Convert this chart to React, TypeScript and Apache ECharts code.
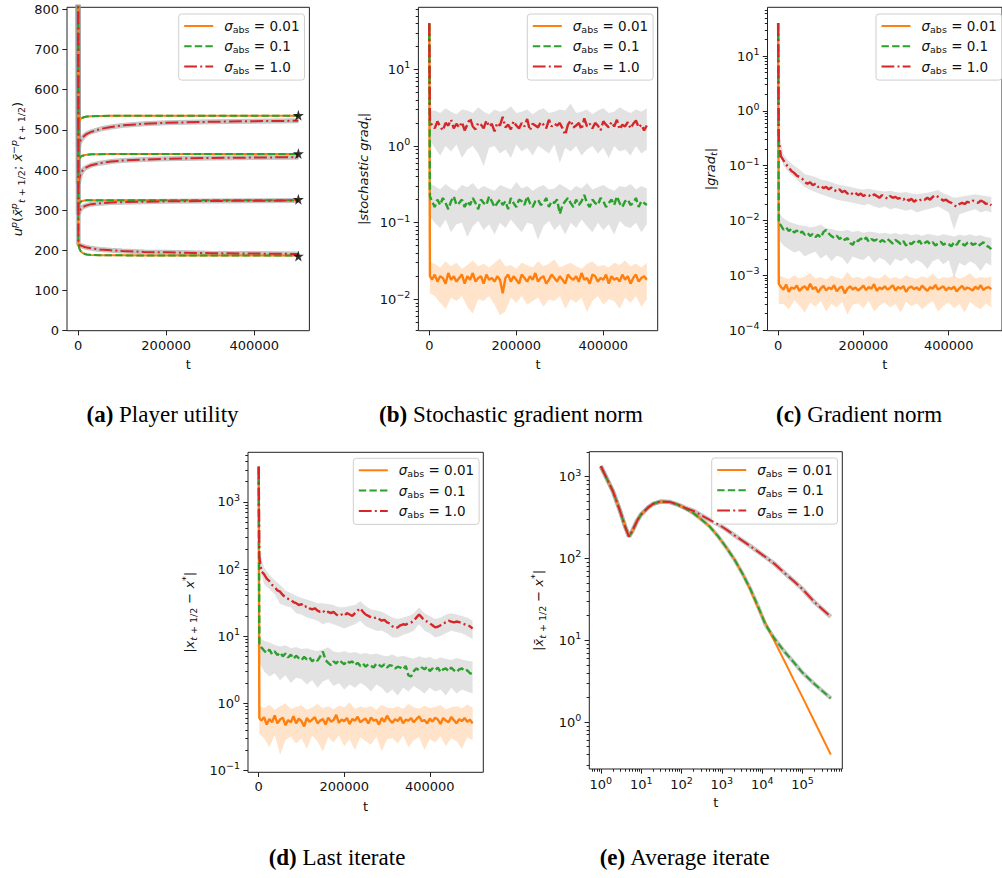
import React, { useEffect, useRef } from 'react';
import * as echarts from 'echarts';

const FONT = "'DejaVu Sans', 'Noto Sans', sans-serif";
const SERIF = "'Liberation Serif', 'DejaVu Serif', serif";
const TXT = '#111';
const AXIS = '#222';

const SIGMAS = ['0.01', '0.1', '1.0'];
const NAMES = SIGMAS.map((s) => `σabs = ${s}`);
const COLORS = ['#ff7f0e', '#2ca02c', '#d62728'];
const DASHES: any[] = ['solid', [7.4, 3.2], [12.8, 3.2, 2, 3.2]];
const GREY_FILL = 'rgba(150,150,150,0.28)';
const ORANGE_FILL = 'rgba(255,127,14,0.22)';

// ---------- (a) Player utility ----------
const T_A = [0, 800, 3000, 6000, 10000, 15000, 20000, 30000, 50000, 75000, 100000, 150000, 200000, 300000, 400000, 500000];
const UA1_001 = [900, 516, 521, 527, 530, 532, 533, 534, 534.5, 535, 535, 535, 535, 535, 535, 535];
const UA1_01 = [900, 518, 522, 527, 530, 532, 533, 534, 534.5, 535, 535, 535, 535, 535, 535, 535];
const UA1_10 = [900, 455, 466, 474, 480, 486, 490, 495, 502, 507, 511, 515, 517.5, 520, 521.5, 522.5];
const UA2_001 = [900, 428, 430, 433, 435.5, 437, 438, 439, 439.5, 440, 440, 440, 440, 440, 440, 440];
const UA2_01 = [900, 426, 429, 433, 435.5, 437, 438, 439, 439.5, 440, 440, 440, 440, 440, 440, 440];
const UA2_10 = [900, 365, 380, 390, 398, 404, 407, 412, 417, 421, 423.5, 426, 428, 430, 431, 432];
const UA3_001 = [900, 315, 318, 321, 323, 324, 324.5, 325, 325, 325, 325, 325, 325, 325, 325, 325];
const UA3_01 = [900, 314, 318, 321, 323, 324, 324.5, 325, 325, 325, 325, 325, 325, 325, 325, 325];
const UA3_10 = [900, 290, 298, 303, 307, 310, 312, 315, 317, 319, 320, 321, 322, 323, 323.5, 324];
const UA4_001 = [900, 214, 205, 198, 194, 191, 189.5, 188.5, 188, 187.5, 187.5, 187, 187, 187, 187, 187];
const UA4_01 = [900, 215, 205, 198, 194, 191, 189.5, 188.5, 188, 187.5, 187.5, 187, 187, 187, 187, 187];
const UA4_10 = [900, 216, 214, 212, 210.5, 208.5, 207, 205, 202, 200, 198.5, 196, 195, 193, 192, 191];
const STAR_T = 500000;
const STAR_U = [536, 441, 327, 186];

// ---------- shared time grids for (b), (c), (d) ----------
const T_START = [0, 1500];
const MEAN_STEP = 6250;
const BAND_STEP = 12500;
const T_MEAN = [...T_START, ...Array.from({ length: 80 }, (_, i) => (i + 1) * MEAN_STEP)];
const T_BAND = [...T_START, ...Array.from({ length: 40 }, (_, i) => (i + 1) * BAND_STEP)];

// ---------- (b) Stochastic gradient norm ----------
const B_MEAN_001 = [40, 0.02,
  0.018, 0.021, 0.017, 0.02, 0.019, 0.016, 0.022, 0.018, 0.02, 0.017,
  0.019, 0.021, 0.016, 0.02, 0.018, 0.022, 0.017, 0.019, 0.02, 0.016,
  0.021, 0.018, 0.019, 0.017, 0.02, 0.018, 0.012, 0.019, 0.021, 0.017,
  0.02, 0.018, 0.016, 0.021, 0.019, 0.017, 0.02, 0.018, 0.022, 0.017,
  0.019, 0.02, 0.016, 0.018, 0.021, 0.019, 0.017, 0.02, 0.018, 0.016,
  0.021, 0.019, 0.018, 0.02, 0.017, 0.022, 0.018, 0.019, 0.016, 0.021,
  0.02, 0.017, 0.019, 0.018, 0.021, 0.016, 0.02, 0.018, 0.019, 0.017,
  0.021, 0.018, 0.02, 0.016, 0.019, 0.021, 0.017, 0.019, 0.02, 0.018];
const B_MEAN_01 = [40, 0.22,
  0.19, 0.16, 0.2, 0.17, 0.21, 0.18, 0.15, 0.19, 0.22, 0.17,
  0.18, 0.2, 0.16, 0.19, 0.17, 0.21, 0.18, 0.15, 0.2, 0.18,
  0.17, 0.22, 0.19, 0.16, 0.18, 0.2, 0.17, 0.19, 0.15, 0.21,
  0.18, 0.16, 0.2, 0.19, 0.17, 0.22, 0.18, 0.16, 0.19, 0.2,
  0.17, 0.18, 0.21, 0.16, 0.19, 0.18, 0.2, 0.13, 0.17, 0.19,
  0.21, 0.18, 0.16, 0.2, 0.17, 0.19, 0.23, 0.18, 0.16, 0.2,
  0.18, 0.17, 0.21, 0.19, 0.16, 0.18, 0.2, 0.17, 0.22, 0.18,
  0.16, 0.19, 0.2, 0.17, 0.18, 0.21, 0.16, 0.19, 0.18, 0.17];
const B_MEAN_10 = [40, 2.0,
  1.9, 1.7, 2.1, 1.8, 1.6, 2.0, 1.85, 2.2, 1.7, 1.95,
  1.75, 2.05, 1.6, 1.9, 2.3, 1.8, 1.65, 2.0, 1.9, 1.7,
  2.15, 1.8, 1.95, 1.55, 2.0, 1.85, 2.4, 1.75, 1.9, 1.65,
  2.1, 1.85, 1.7, 2.0, 1.8, 2.25, 1.6, 1.95, 1.85, 1.75,
  2.05, 1.9, 1.7, 2.2, 1.8, 1.95, 1.85, 2.0, 1.7, 1.4,
  1.9, 2.15, 1.75, 1.85, 2.0, 1.65, 2.3, 1.8, 1.95, 1.7,
  2.0, 1.85, 1.6, 2.1, 1.9, 1.75, 2.05, 1.8, 2.2, 1.65,
  1.9, 1.8, 2.05, 1.7, 1.95, 2.15, 1.75, 1.9, 1.6, 1.85];
const B_HI_001 = [41, 0.03,
  0.029, 0.026, 0.031, 0.027, 0.03, 0.025, 0.028, 0.032, 0.027, 0.029,
  0.026, 0.03, 0.034, 0.027, 0.028, 0.025, 0.03, 0.028, 0.026, 0.031,
  0.027, 0.029, 0.033, 0.026, 0.028, 0.03, 0.027, 0.025, 0.029, 0.031,
  0.027, 0.028, 0.026, 0.03, 0.028, 0.032, 0.027, 0.029, 0.026, 0.03];
const B_LO_001 = [39, 0.012,
  0.011, 0.009, 0.0075, 0.0105, 0.0095, 0.011, 0.008, 0.0065, 0.01, 0.0095,
  0.011, 0.0085, 0.0062, 0.007, 0.0105, 0.009, 0.011, 0.0085, 0.0095, 0.0105,
  0.008, 0.01, 0.0095, 0.011, 0.0075, 0.01, 0.009, 0.0105, 0.0068, 0.0095,
  0.011, 0.0085, 0.01, 0.0095, 0.0075, 0.0105, 0.009, 0.011, 0.008, 0.01];
const B_HI_01 = [41, 0.32,
  0.3, 0.27, 0.32, 0.28, 0.26, 0.31, 0.29, 0.33, 0.27, 0.3,
  0.28, 0.26, 0.31, 0.29, 0.27, 0.34, 0.28, 0.3, 0.26, 0.29,
  0.31, 0.27, 0.28, 0.32, 0.29, 0.26, 0.3, 0.28, 0.33, 0.27,
  0.29, 0.31, 0.28, 0.26, 0.3, 0.29, 0.32, 0.27, 0.3, 0.28];
const B_LO_01 = [39, 0.12,
  0.1, 0.085, 0.11, 0.075, 0.095, 0.1, 0.065, 0.09, 0.105, 0.08,
  0.095, 0.07, 0.1, 0.085, 0.11, 0.09, 0.075, 0.1, 0.095, 0.06,
  0.09, 0.105, 0.08, 0.095, 0.07, 0.1, 0.085, 0.11, 0.09, 0.075,
  0.1, 0.08, 0.095, 0.07, 0.105, 0.09, 0.085, 0.1, 0.075, 0.095];
const B_HI_10 = [41, 2.9,
  2.9, 2.7, 3.1, 2.8, 2.6, 3.0, 2.9, 2.7, 3.2, 2.8,
  2.6, 3.0, 2.8, 2.9, 3.3, 2.7, 2.8, 3.0, 2.6, 2.9,
  3.1, 2.7, 2.8, 3.0, 2.9, 3.6, 2.7, 2.8, 3.0, 2.6,
  2.9, 3.1, 2.7, 2.8, 3.2, 2.9, 2.7, 3.0, 2.8, 3.1];
const B_LO_10 = [39, 1.2,
  0.95, 0.75, 1.0, 0.85, 1.05, 0.7, 0.9, 1.0, 0.8, 0.55,
  0.95, 1.0, 0.8, 0.9, 0.7, 1.05, 0.85, 0.95, 0.75, 1.0,
  0.9, 0.8, 1.05, 0.6, 0.95, 0.85, 1.0, 0.75, 0.9, 1.0,
  0.8, 0.95, 0.7, 1.0, 0.85, 0.9, 0.75, 1.0, 0.8, 0.9];

// ---------- (c) Gradient norm ----------
const C_MEAN_001 = [40, 0.0007,
  0.00062, 0.00055, 0.00068, 0.0005, 0.0006, 0.00057, 0.00065, 0.00052, 0.00059, 0.00063,
  0.00054, 0.0007, 0.00056, 0.00061, 0.00049, 0.00058, 0.00064, 0.00053, 0.0006, 0.00056,
  0.00066, 0.00051, 0.00059, 0.00062, 0.00047, 0.00057, 0.00063, 0.00055, 0.0006, 0.00053,
  0.00058, 0.00065, 0.00054, 0.00061, 0.00057, 0.00069, 0.00052, 0.0006, 0.00056, 0.00063,
  0.00055, 0.00059, 0.00066, 0.00053, 0.00061, 0.00057, 0.00064, 0.0005, 0.00059, 0.00062,
  0.00056, 0.0006, 0.00054, 0.00065, 0.00058, 0.00052, 0.00061, 0.00057, 0.00067, 0.00055,
  0.00059, 0.00063, 0.00053, 0.0006, 0.00056, 0.00062, 0.00051, 0.00058, 0.00064, 0.00055,
  0.0006, 0.00057, 0.00053, 0.00062, 0.00056, 0.00066, 0.00054, 0.00059, 0.00061, 0.00056];
const C_MEAN_01 = [40, 0.009,
  0.0082, 0.0068, 0.0075, 0.0064, 0.0071, 0.006, 0.0066, 0.0058, 0.0063, 0.0055,
  0.006, 0.0052, 0.0057, 0.005, 0.0055, 0.0049, 0.0062, 0.0067, 0.0058, 0.0052,
  0.0048, 0.0053, 0.0046, 0.005, 0.0044, 0.0048, 0.0039, 0.0036, 0.0045, 0.0042,
  0.0047, 0.0043, 0.0049, 0.0041, 0.0046, 0.0043, 0.0045, 0.004, 0.0044, 0.0041,
  0.0046, 0.0042, 0.0038, 0.0044, 0.0041, 0.0037, 0.0042, 0.0035, 0.004, 0.0037,
  0.0041, 0.0038, 0.0043, 0.0036, 0.0039, 0.0042, 0.0037, 0.004, 0.0035, 0.0038,
  0.0041, 0.0036, 0.0039, 0.0037, 0.0034, 0.004, 0.0036, 0.0043, 0.0038, 0.0035,
  0.0039, 0.0041, 0.0036, 0.0038, 0.0034, 0.0037, 0.004, 0.0035, 0.0033, 0.003];
const C_MEAN_10 = [40, 0.3,
  0.15, 0.125, 0.105, 0.092, 0.08, 0.074, 0.066, 0.062, 0.058, 0.05,
  0.047, 0.05, 0.044, 0.047, 0.041, 0.043, 0.039, 0.041, 0.037, 0.04,
  0.036, 0.034, 0.037, 0.033, 0.035, 0.031, 0.033, 0.03, 0.032, 0.029,
  0.031, 0.028, 0.03, 0.029, 0.027, 0.03, 0.028, 0.026, 0.029, 0.027,
  0.025, 0.028, 0.026, 0.027, 0.025, 0.026, 0.024, 0.026, 0.023, 0.025,
  0.022, 0.024, 0.023, 0.025, 0.024, 0.026, 0.024, 0.027, 0.029, 0.027,
  0.025, 0.023, 0.024, 0.022, 0.021, 0.019, 0.018, 0.02, 0.021, 0.02,
  0.022, 0.021, 0.023, 0.022, 0.021, 0.023, 0.022, 0.02, 0.021, 0.019];
const C_HI_001 = [41, 0.001,
  0.00092, 0.00085, 0.001, 0.00088, 0.00095, 0.0011, 0.00087, 0.00093, 0.00084, 0.001,
  0.0009, 0.00086, 0.00115, 0.00089, 0.00094, 0.00085, 0.00098, 0.0009, 0.00087, 0.00105,
  0.00088, 0.00093, 0.00085, 0.001, 0.0009, 0.00087, 0.00096, 0.00089, 0.00108, 0.00086,
  0.00092, 0.0009, 0.00098, 0.00087, 0.00094, 0.0011, 0.00088, 0.00093, 0.00089, 0.00095];
const C_LO_001 = [39, 0.0003,
  0.0003, 0.00024, 0.00035, 0.00028, 0.00021, 0.00032, 0.00027, 0.00034, 0.00022, 0.0003,
  0.00026, 0.00033, 0.00019, 0.00029, 0.00031, 0.00025, 0.00034, 0.00022, 0.00028, 0.00032,
  0.00026, 0.0003, 0.00021, 0.00033, 0.00027, 0.00031, 0.00024, 0.00029, 0.00034, 0.00022,
  0.00028, 0.00032, 0.00025, 0.0003, 0.00021, 0.00033, 0.00027, 0.00024, 0.00031, 0.00026];
const C_HI_01 = [41, 0.014,
  0.011, 0.0095, 0.0088, 0.0082, 0.008, 0.0075, 0.0078, 0.0085, 0.0072, 0.007,
  0.0066, 0.0064, 0.0068, 0.0062, 0.0065, 0.006, 0.0063, 0.0061, 0.0058, 0.006,
  0.0057, 0.0059, 0.0055, 0.0058, 0.0054, 0.0056, 0.0053, 0.0057, 0.0055, 0.0052,
  0.0056, 0.0054, 0.0051, 0.0055, 0.0053, 0.0056, 0.0052, 0.0054, 0.005, 0.0048];
const C_LO_01 = [39, 0.0045,
  0.0035, 0.003, 0.0026, 0.0028, 0.0022, 0.0025, 0.0027, 0.002, 0.0024, 0.0018,
  0.0023, 0.0021, 0.0016, 0.0022, 0.002, 0.0019, 0.0023, 0.0017, 0.0021, 0.0019,
  0.0015, 0.002, 0.0018, 0.0021, 0.0016, 0.0019, 0.0017, 0.0013, 0.0018, 0.002,
  0.0016, 0.0019, 0.0009, 0.0017, 0.0015, 0.0018, 0.0016, 0.0012, 0.0017, 0.0015];
const C_HI_10 = [41, 0.4,
  0.16, 0.12, 0.1, 0.085, 0.07, 0.066, 0.062, 0.056, 0.054, 0.05,
  0.046, 0.044, 0.042, 0.04, 0.038, 0.037, 0.038, 0.036, 0.035, 0.034,
  0.035, 0.033, 0.032, 0.033, 0.031, 0.03, 0.031, 0.032, 0.034, 0.036,
  0.031, 0.029, 0.026, 0.027, 0.028, 0.029, 0.03, 0.029, 0.028, 0.027];
const C_LO_10 = [39, 0.2,
  0.1, 0.075, 0.062, 0.05, 0.041, 0.036, 0.033, 0.03, 0.028, 0.026,
  0.024, 0.023, 0.022, 0.021, 0.02, 0.019, 0.02, 0.018, 0.017, 0.018,
  0.016, 0.017, 0.016, 0.015, 0.016, 0.014, 0.015, 0.016, 0.017, 0.018,
  0.016, 0.014, 0.0068, 0.013, 0.014, 0.015, 0.016, 0.014, 0.015, 0.014];

// ---------- (d) Last iterate ----------
const D_MEAN_001 = [3300, 0.6,
  0.55, 0.62, 0.48, 0.58, 0.52, 0.66, 0.5, 0.57, 0.61, 0.47,
  0.56, 0.52, 0.64, 0.5, 0.59, 0.54, 0.45, 0.6, 0.53, 0.57,
  0.62, 0.5, 0.55, 0.58, 0.48, 0.61, 0.53, 0.56, 0.67, 0.51,
  0.57, 0.54, 0.6, 0.49, 0.58, 0.55, 0.63, 0.52, 0.56, 0.59,
  0.5, 0.61, 0.55, 0.57, 0.48, 0.6, 0.53, 0.65, 0.56, 0.51,
  0.58, 0.54, 0.62, 0.5, 0.57, 0.55, 0.6, 0.52, 0.58, 0.64,
  0.54, 0.56, 0.5, 0.59, 0.53, 0.61, 0.57, 0.49, 0.6, 0.55,
  0.52, 0.62, 0.56, 0.5, 0.58, 0.54, 0.6, 0.53, 0.57, 0.5];
const D_MEAN_01 = [3300, 7.5,
  6.8, 6.1, 5.6, 6.3, 5.4, 5.9, 5.2, 5.7, 5.0, 5.5,
  4.8, 5.3, 4.6, 5.1, 4.7, 4.4, 4.9, 4.5, 4.8, 4.2,
  4.6, 4.3, 5.0, 5.9, 4.4, 4.0, 3.7, 4.2, 3.9, 4.4,
  4.1, 3.8, 4.3, 4.0, 4.2, 3.7, 4.0, 3.6, 3.9, 3.5,
  3.8, 3.6, 3.4, 3.9, 3.7, 3.5, 3.8, 3.4, 3.7, 3.6,
  3.3, 3.5, 3.4, 3.2, 3.6, 2.6, 2.5, 3.0, 3.3, 3.1,
  3.4, 3.2, 3.5, 3.0, 3.3, 3.1, 3.4, 2.9, 3.2, 3.3,
  3.0, 3.4, 3.1, 2.9, 3.2, 3.3, 3.0, 3.1, 2.8, 2.7];
const D_MEAN_10 = [3400, 150,
  92, 84, 72, 66, 58, 54, 48, 46, 41, 38,
  36, 35, 32, 31, 29, 30, 27, 28, 26, 25,
  26, 24, 23, 24, 22, 23, 22, 23, 21, 20,
  21, 20, 22, 21, 20, 22, 24, 26, 23, 21,
  20, 19, 18.5, 19, 18, 17, 17.5, 16, 15.5, 14,
  13.2, 13.5, 14.5, 15, 14.8, 15.5, 16, 17, 19, 21,
  19, 17, 16.5, 15.5, 14.5, 13.5, 13.8, 14.5, 15.5, 16,
  17, 16.5, 16, 16.5, 16.2, 15.5, 15, 14.5, 14, 13];
const D_HI_001 = [3350, 0.9,
  0.85, 0.95, 0.8, 0.9, 1.0, 0.82, 0.88, 0.93, 0.8, 0.86,
  0.97, 0.84, 0.9, 0.81, 0.92, 0.87, 1.02, 0.83, 0.89, 0.85,
  0.91, 0.8, 0.95, 0.86, 0.84, 0.9, 0.82, 0.98, 0.87, 0.83,
  0.92, 0.85, 0.88, 0.94, 0.81, 0.87, 0.9, 0.84, 0.96, 0.86];
const D_LO_001 = [3250, 0.35,
  0.3, 0.22, 0.34, 0.17, 0.28, 0.32, 0.25, 0.3, 0.21, 0.33,
  0.27, 0.19, 0.31, 0.26, 0.33, 0.23, 0.29, 0.2, 0.31, 0.27,
  0.24, 0.32, 0.19, 0.29, 0.3, 0.25, 0.33, 0.22, 0.28, 0.31,
  0.2, 0.29, 0.26, 0.32, 0.23, 0.3, 0.27, 0.21, 0.31, 0.28];
const D_HI_01 = [3350, 9.5,
  8.5, 8.0, 7.4, 7.0, 7.3, 6.6, 6.9, 6.4, 6.6, 6.2,
  6.0, 6.3, 6.8, 5.9, 5.7, 6.0, 5.6, 5.8, 5.4, 5.6,
  5.3, 5.5, 5.2, 5.0, 5.3, 4.9, 5.1, 4.8, 4.6, 5.0,
  4.7, 4.9, 4.5, 4.8, 4.6, 4.4, 4.7, 4.5, 4.3, 4.2];
const D_LO_01 = [3250, 4.0,
  3.0, 2.5, 2.8, 2.2, 2.6, 2.0, 2.4, 2.3, 1.9, 2.2,
  1.7, 2.1, 2.3, 1.8, 2.0, 1.6, 1.9, 1.7, 2.0, 1.8,
  1.5, 1.9, 1.7, 1.4, 1.6, 1.3, 1.7, 1.5, 1.8, 1.6,
  1.4, 1.7, 1.5, 1.6, 1.3, 1.7, 1.4, 1.6, 1.5, 1.4];
const D_HI_10 = [3450, 190,
  105, 82, 68, 58, 48, 44, 40, 37, 35, 33,
  31, 31, 30, 29, 27, 27, 28, 29, 33, 28,
  25, 24, 23, 21, 19, 18, 19, 20, 22, 27,
  22, 20, 18, 19, 21, 22, 21, 20, 19, 17];
const D_LO_10 = [3350, 110,
  60, 50, 42, 30, 28, 27, 22, 21, 19, 18,
  17, 15, 16, 15, 14, 13, 14, 15, 17, 14,
  13, 12, 12, 11, 9.5, 9.5, 10.5, 11, 12, 15,
  12, 11, 9.5, 10, 11, 12, 11.5, 11, 10, 9];

// ---------- (e) Average iterate ----------
const T_E = [1, 2, 3, 4, 5, 6, 8, 10, 15, 20, 30, 50, 80, 120, 200, 316, 500, 800, 1300, 2100, 3200, 5000, 8000, 12000, 20000, 36000, 60000, 100000, 200000, 500000];
const E_001 = [1340, 660, 380, 245, 185, 215, 290, 345, 420, 465, 495, 490, 455, 412, 355, 297, 245, 187, 135, 95, 66, 42, 24.4, 16.2, 9.8, 5.5, 3.3, 2.0, 1.0, 0.4];
const E_01 = [1340, 660, 380, 245, 185, 215, 290, 345, 420, 465, 495, 490, 455, 412, 355, 297, 245, 187, 135, 95, 66, 43, 25.5, 15.5, 10.5, 7.2, 5.4, 4.0, 2.9, 1.95];
const E_10 = [1340, 660, 380, 245, 185, 215, 290, 345, 420, 465, 495, 490, 455, 418, 380, 335, 295, 262, 225, 190, 165, 142, 120, 104, 86, 66, 53, 42, 29, 19.3];

// ---------- captions ----------
const CAP_TAGS = ['(a)', '(b)', '(c)', '(d)', '(e)'];
const CAP_TITLES = ['Player utility', 'Stochastic gradient norm', 'Gradient norm', 'Last iterate', 'Average iterate'];
const CAP_POS = [[162.5, 414], [511, 414], [859, 414], [337, 857], [685, 857]];

const X_TICKS = [0, 200000, 400000];
const Y_TICKS_A = [0, 100, 200, 300, 400, 500, 600, 700, 800];

const GRIDS = [
  { left: 67, top: 7.3, width: 242.4, height: 323.4 },
  { left: 418.4, top: 7.3, width: 239.3, height: 323.4 },
  { left: 767.5, top: 7.3, width: 238.7, height: 323.4 },
  { left: 248, top: 452.3, width: 235.3, height: 320 },
  { left: 589.3, top: 451.7, width: 253, height: 317.3 },
];
const LEGEND_POS = [[178.7, 14], [527.3, 14], [876, 14], [353.3, 458.3], [711.7, 458]];

const NAME_RICH = {
  n: { fontFamily: FONT, fontSize: 13, color: TXT },
  i: { fontFamily: FONT, fontSize: 13, color: TXT, fontStyle: 'italic' },
  sup: { fontFamily: FONT, fontSize: 9.5, color: TXT, fontStyle: 'italic', padding: [0, 0, 9, 0] },
  sub: { fontFamily: FONT, fontSize: 9.5, color: TXT, padding: [7, 0, 0, 0] },
  subi: { fontFamily: FONT, fontSize: 9.5, color: TXT, fontStyle: 'italic', padding: [7, 0, 0, 0] },
};
const Y_NAMES = [
  '{i|u}{sup|p}{n|(}{i|x\u0304}{sup|p}{subi|t}{sub| + 1/2}{n|; }{i|x\u0304}{sup|\u2212p}{subi|t}{sub| + 1/2}{n|)}',
  '{n||}{i|stochastic grad}{subi|t}{n||}',
  '{n||}{i|grad}{subi|t}{n||}',
  '{n||}{i|x}{subi|t}{sub| + 1/2}{n| \u2212 }{i|x}{sup|*}{n||}',
  '{n||}{i|x\u0304}{subi|t}{sub| + 1/2}{n| \u2212 }{i|x}{sup|*}{n||}',
];
const Y_NAME_GAPS = [40, 46, 49, 49, 41];

const LOG_RICH = {
  b: { fontFamily: FONT, fontSize: 13, color: TXT },
  s: { fontFamily: FONT, fontSize: 9.5, color: TXT, padding: [0, 0, 9, 0] },
};
const supText = (k: number) => (k < 0 ? '\u2212' + Math.abs(k) : String(k));
const logFmt = (v: number) => `{b|10}{s|${supText(Math.round(v))}}`;

const tickStyle = { color: AXIS, width: 1 };
const labelBase = { fontFamily: FONT, fontSize: 13, color: TXT };
const nameStyleT = { fontFamily: FONT, fontSize: 13, color: TXT };
const noLine = { show: false, onZero: false };

function linX(gi: number) {
  return {
    type: 'value', gridIndex: gi, position: 'bottom', min: -25000, max: 525000,
    axisLine: noLine, splitLine: { show: false },
    axisTick: { show: true, customValues: X_TICKS, length: 4.7, lineStyle: tickStyle },
    axisLabel: { ...labelBase, customValues: X_TICKS, margin: 8, formatter: (v: number) => String(v) },
    name: 't', nameLocation: 'middle', nameGap: gi === 3 ? 28 : 27, nameTextStyle: nameStyleT,
  };
}

function logSet(gi: number, lo: number, hi: number, dim: 'x' | 'y', nameCfg: any) {
  const majors: number[] = [];
  const minors: number[] = [];
  for (let k = Math.floor(lo); k <= Math.ceil(hi); k++) {
    if (k >= lo && k <= hi) majors.push(k);
    for (let m = 2; m <= 9; m++) {
      const v = k + Math.log10(m);
      if (v >= lo && v <= hi) minors.push(v);
    }
  }
  const position = dim === 'x' ? 'bottom' : 'left';
  return [
    { type: 'log', logBase: 10, gridIndex: gi, position, min: Math.pow(10, lo), max: Math.pow(10, hi), show: false, axisLine: noLine },
    {
      type: 'value', gridIndex: gi, position, min: lo, max: hi,
      axisLine: noLine, splitLine: { show: false },
      axisTick: { show: true, customValues: majors, length: 4.7, lineStyle: tickStyle },
      axisLabel: { customValues: majors, formatter: logFmt, rich: LOG_RICH, margin: dim === 'x' ? 6 : 8 },
      ...nameCfg,
    },
    {
      type: 'value', gridIndex: gi, position, min: lo, max: hi,
      axisLine: noLine, splitLine: { show: false },
      axisTick: { show: true, customValues: minors, length: 2.7, lineStyle: tickStyle },
      axisLabel: { show: false },
    },
  ];
}

const yName = (gi: number) => ({
  name: Y_NAMES[gi], nameLocation: 'middle', nameRotate: 90, nameGap: Y_NAME_GAPS[gi],
  nameTextStyle: { rich: NAME_RICH, fontFamily: FONT, fontSize: 13, color: TXT },
});

function buildOption() {
  const series: any[] = [];
  const pts = (ts: number[], vs: number[]) => vs.map((v, i) => [ts[i], v]);
  const line = (name: string, xi: number, yi: number, ts: number[], vs: number[], k: number, w = 2) => {
    series.push({
      type: 'line', name, xAxisIndex: xi, yAxisIndex: yi, data: pts(ts, vs),
      showSymbol: false, symbol: 'none', silent: true, z: 4,
      lineStyle: { color: COLORS[k], width: w, type: DASHES[k] }, itemStyle: { color: COLORS[k] },
    });
  };
  const halo = (id: string, xi: number, yi: number, ts: number[], vs: number[], w: number) => {
    series.push({
      type: 'line', name: id, xAxisIndex: xi, yAxisIndex: yi, data: pts(ts, vs),
      showSymbol: false, symbol: 'none', silent: true, z: 2,
      lineStyle: { color: 'rgba(150,150,150,0.55)', width: w },
    });
  };
  const band = (id: string, xi: number, yi: number, ts: number[], lo: number[], hi: number[], fill: string) => {
    series.push({
      type: 'custom', name: id, xAxisIndex: xi, yAxisIndex: yi, silent: true, z: 1, clip: true,
      data: ts.map((t, i) => [t, lo[i], hi[i]]),
      encode: { x: 0, y: [1, 2] },
      renderItem: (params: any, api: any) => {
        if (params.dataIndex !== 0) return null;
        const top = ts.map((t, i) => api.coord([t, hi[i]]));
        const bot = ts.map((t, i) => api.coord([t, lo[i]])).reverse();
        return { type: 'polygon', shape: { points: top.concat(bot) }, style: { fill, stroke: null } };
      },
    });
  };

  // (a)
  const groupsA = [[UA1_001, UA1_01, UA1_10], [UA2_001, UA2_01, UA2_10], [UA3_001, UA3_01, UA3_10], [UA4_001, UA4_01, UA4_10]];
  groupsA.forEach((g, gi) => {
    halo('a-halo-' + gi, 0, 0, T_A, g[2], 5);
    g.forEach((vs, k) => line(NAMES[k], 0, 0, T_A, vs, k));
  });
  series.push({
    type: 'scatter', name: 'final', xAxisIndex: 0, yAxisIndex: 0, silent: true, z: 6,
    symbol: 'path://M50,0 L61,35 L98,35 L68,57 L79,91 L50,70 L21,91 L32,57 L2,35 L39,35 Z',
    symbolSize: 11, itemStyle: { color: '#000' },
    data: STAR_U.map((u) => [STAR_T, u]),
  });

  // (b), (c), (d)
  const noisy = [
    { xi: 1, yi: 1, mean: [B_MEAN_001, B_MEAN_01, B_MEAN_10], lo: [B_LO_001, B_LO_01, B_LO_10], hi: [B_HI_001, B_HI_01, B_HI_10] },
    { xi: 2, yi: 4, mean: [C_MEAN_001, C_MEAN_01, C_MEAN_10], lo: [C_LO_001, C_LO_01, C_LO_10], hi: [C_HI_001, C_HI_01, C_HI_10] },
    { xi: 3, yi: 7, mean: [D_MEAN_001, D_MEAN_01, D_MEAN_10], lo: [D_LO_001, D_LO_01, D_LO_10], hi: [D_HI_001, D_HI_01, D_HI_10] },
  ];
  noisy.forEach((p, pi) => {
    for (let k = 0; k < 3; k++) {
      band(`band-${pi}-${k}`, p.xi, p.yi, T_BAND, p.lo[k], p.hi[k], k === 0 ? ORANGE_FILL : GREY_FILL);
    }
    for (let k = 0; k < 3; k++) line(NAMES[k], p.xi, p.yi, T_MEAN, p.mean[k], k, 2.4);
  });

  // (e)
  halo('e-halo-g', 4, 10, T_E, E_01, 4);
  halo('e-halo-r', 4, 10, T_E, E_10, 4.5);
  [E_001, E_01, E_10].forEach((vs, k) => line(NAMES[k], 4, 10, T_E, vs, k));

  const legends = LEGEND_POS.map(([l, t]) => ({
    orient: 'vertical', left: l, top: t, data: NAMES, selectedMode: false,
    itemWidth: 29, itemHeight: 14, itemGap: 4.8, padding: [5, 5, 5, 4.5],
    itemStyle: { opacity: 0 },
    backgroundColor: 'rgba(255,255,255,0.85)', borderColor: '#cfcfcf', borderWidth: 1, borderRadius: 3,
    formatter: (name: string) => `{s|σ}{sub|abs}{n| = ${name.split('= ')[1]}}`,
    textStyle: {
      padding: [0, 0, 0, 6],
      rich: {
        s: { fontFamily: FONT, fontSize: 13.5, fontStyle: 'italic', color: TXT },
        sub: { fontFamily: FONT, fontSize: 9.5, color: TXT, padding: [7, 0, 0, 0] },
        n: { fontFamily: FONT, fontSize: 13.5, color: TXT },
      },
    },
  }));

  const xAxis = [linX(0), linX(1), linX(2), linX(3), ...logSet(4, -0.285, 5.984, 'x', {
    name: 't', nameLocation: 'middle', nameGap: 27, nameTextStyle: nameStyleT,
  })];
  const yAxis = [
    {
      type: 'value', gridIndex: 0, position: 'left', min: 0, max: 805,
      axisLine: noLine, splitLine: { show: false },
      axisTick: { show: true, customValues: Y_TICKS_A, length: 4.7, lineStyle: tickStyle },
      axisLabel: { ...labelBase, customValues: Y_TICKS_A, margin: 8 },
      ...yName(0),
    },
    ...logSet(1, -2.41, 1.81, 'y', yName(1)),
    ...logSet(2, -4.01, 1.89, 'y', yName(2)),
    ...logSet(3, -1.03, 3.74, 'y', yName(3)),
    ...logSet(4, -0.574, 3.304, 'y', yName(4)),
  ];

  const graphic = CAP_TAGS.map((tag, i) => ({
    type: 'text', x: CAP_POS[i][0], y: CAP_POS[i][1], silent: true,
    style: {
      text: `{b|${tag}}{n| ${CAP_TITLES[i]}}`,
      align: 'center', verticalAlign: 'middle', textAlign: 'center', textVerticalAlign: 'middle',
      rich: {
        b: { fontFamily: SERIF, fontSize: 23, fontWeight: 'bold', fill: '#000' },
        n: { fontFamily: SERIF, fontSize: 23, fill: '#000' },
      },
    },
  }));

  return {
    animation: false,
    backgroundColor: '#fff',
    grid: GRIDS.map((g) => ({ ...g, show: true, borderColor: AXIS, borderWidth: 1, backgroundColor: 'transparent', containLabel: false })),
    xAxis,
    yAxis,
    legend: legends,
    series,
    graphic,
  };
}

export default function App() {
  const ref = useRef<HTMLDivElement>(null);
  useEffect(() => {
    if (!ref.current) return;
    const chart = echarts.init(ref.current, null, { renderer: 'svg' });
    chart.setOption(buildOption() as any);
    return () => chart.dispose();
  }, []);
  return <div ref={ref} style={{ position: 'absolute', left: 0, top: 0, width: 1002, height: 878, background: '#fff' }} />;
}
